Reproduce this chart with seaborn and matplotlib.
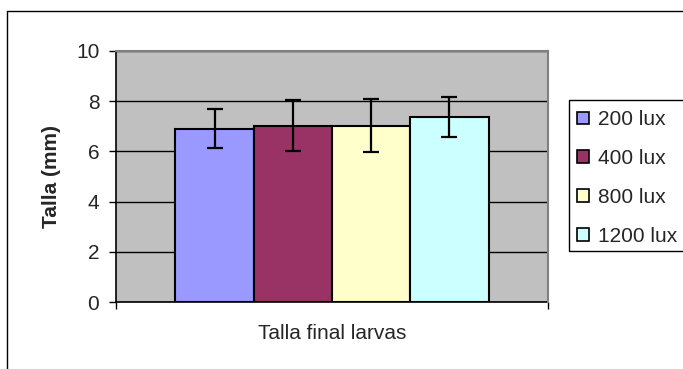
import matplotlib
matplotlib.use("Agg")
import matplotlib.pyplot as plt
from matplotlib.patches import Patch, Rectangle
from matplotlib.lines import Line2D
import seaborn as sns
import pandas as pd

# Final larval length by light intensity
group = ["Talla final larvas"]
treatments = ["200 lux", "400 lux", "800 lux", "1200 lux"]
means = [6.90, 7.03, 7.03, 7.37]
errors = [0.77, 1.00, 1.05, 0.80]
colors = ["#9999FF", "#993366", "#FFFFCC", "#CCFFFF"]
yticks = [0, 2, 4, 6, 8, 10]

df = pd.DataFrame({
    "grupo": group * len(treatments),
    "tratamiento": treatments,
    "talla": means,
})

sns.set_theme(style="white")
plt.rcParams["font.family"] = ["Liberation Sans", "DejaVu Sans"]

W, H = 683, 369
fig = plt.figure(figsize=(W / 100, H / 100), dpi=100)
fig.patch.set_facecolor("white")
ax = fig.add_axes([116 / W, 1 - 302 / H, 432 / W, 251 / H])
ax.set_facecolor("#C0C0C0")

sns.barplot(data=df, x="grupo", y="talla", hue="tratamiento",
            hue_order=treatments, palette=colors, saturation=1,
            width=0.725, edgecolor="black", linewidth=1.5, errorbar=None,
            legend=False, ax=ax, zorder=2)

# error bars at each bar centre, from the same means
bars = sorted(ax.patches, key=lambda p: p.get_x())
centers = [b.get_x() + b.get_width() / 2 for b in bars]
ax.errorbar(centers, means, yerr=errors, fmt="none", ecolor="black",
            elinewidth=1.6, capsize=5.5, capthick=1.6, zorder=3)

ax.set_ylim(0, 10)
ax.set_xlim(-0.5, 0.5)
ax.set_yticks(yticks)
ax.set_yticklabels([str(t) for t in yticks], fontsize=15)
ax.set_xticks([-0.5, 0.5])
ax.set_xticklabels(["", ""])
ax.tick_params(axis="both", direction="out", length=5, width=1,
               color="black", left=True, bottom=True)
ax.tick_params(axis="y", pad=7)

ax.yaxis.grid(True, color="black", linewidth=1)
ax.set_axisbelow(True)

for side in ("left", "bottom"):
    ax.spines[side].set_color("black")
    ax.spines[side].set_linewidth(1.2)
for side in ("top", "right"):
    ax.spines[side].set_color("#808080")
    ax.spines[side].set_linewidth(1.5)
    ax.spines[side].set_zorder(4)

ax.set_ylabel("Talla (mm)", fontsize=15, fontweight="bold", labelpad=11)
ax.set_xlabel("Talla final larvas", fontsize=15, labelpad=7)

# legend entries without frame; the box runs past the right edge
handles = [Patch(facecolor=c, edgecolor="black", linewidth=1.2) for c in colors]
leg = fig.legend(handles, treatments, loc="upper left",
                 bbox_to_anchor=(571 / W, 1 - 104 / H),
                 fontsize=15, frameon=False,
                 handlelength=0.55, handleheight=0.55,
                 handletextpad=0.45, labelspacing=0.95, borderpad=0.3,
                 borderaxespad=0)
fig.add_artist(Rectangle((569 / W, 1 - 251 / H), 130 / W, 151 / H,
                         facecolor="none", edgecolor="black", linewidth=1,
                         transform=fig.transFigure, clip_on=False))

# outer chart border (top and left edges)
fig.add_artist(Line2D([7 / W, 1.0], [1 - 11 / H, 1 - 11 / H],
                      color="black", linewidth=1, transform=fig.transFigure))
fig.add_artist(Line2D([7 / W, 7 / W], [0.0, 1 - 11 / H],
                      color="black", linewidth=1, transform=fig.transFigure))

fig.savefig("out.png", dpi=100)
